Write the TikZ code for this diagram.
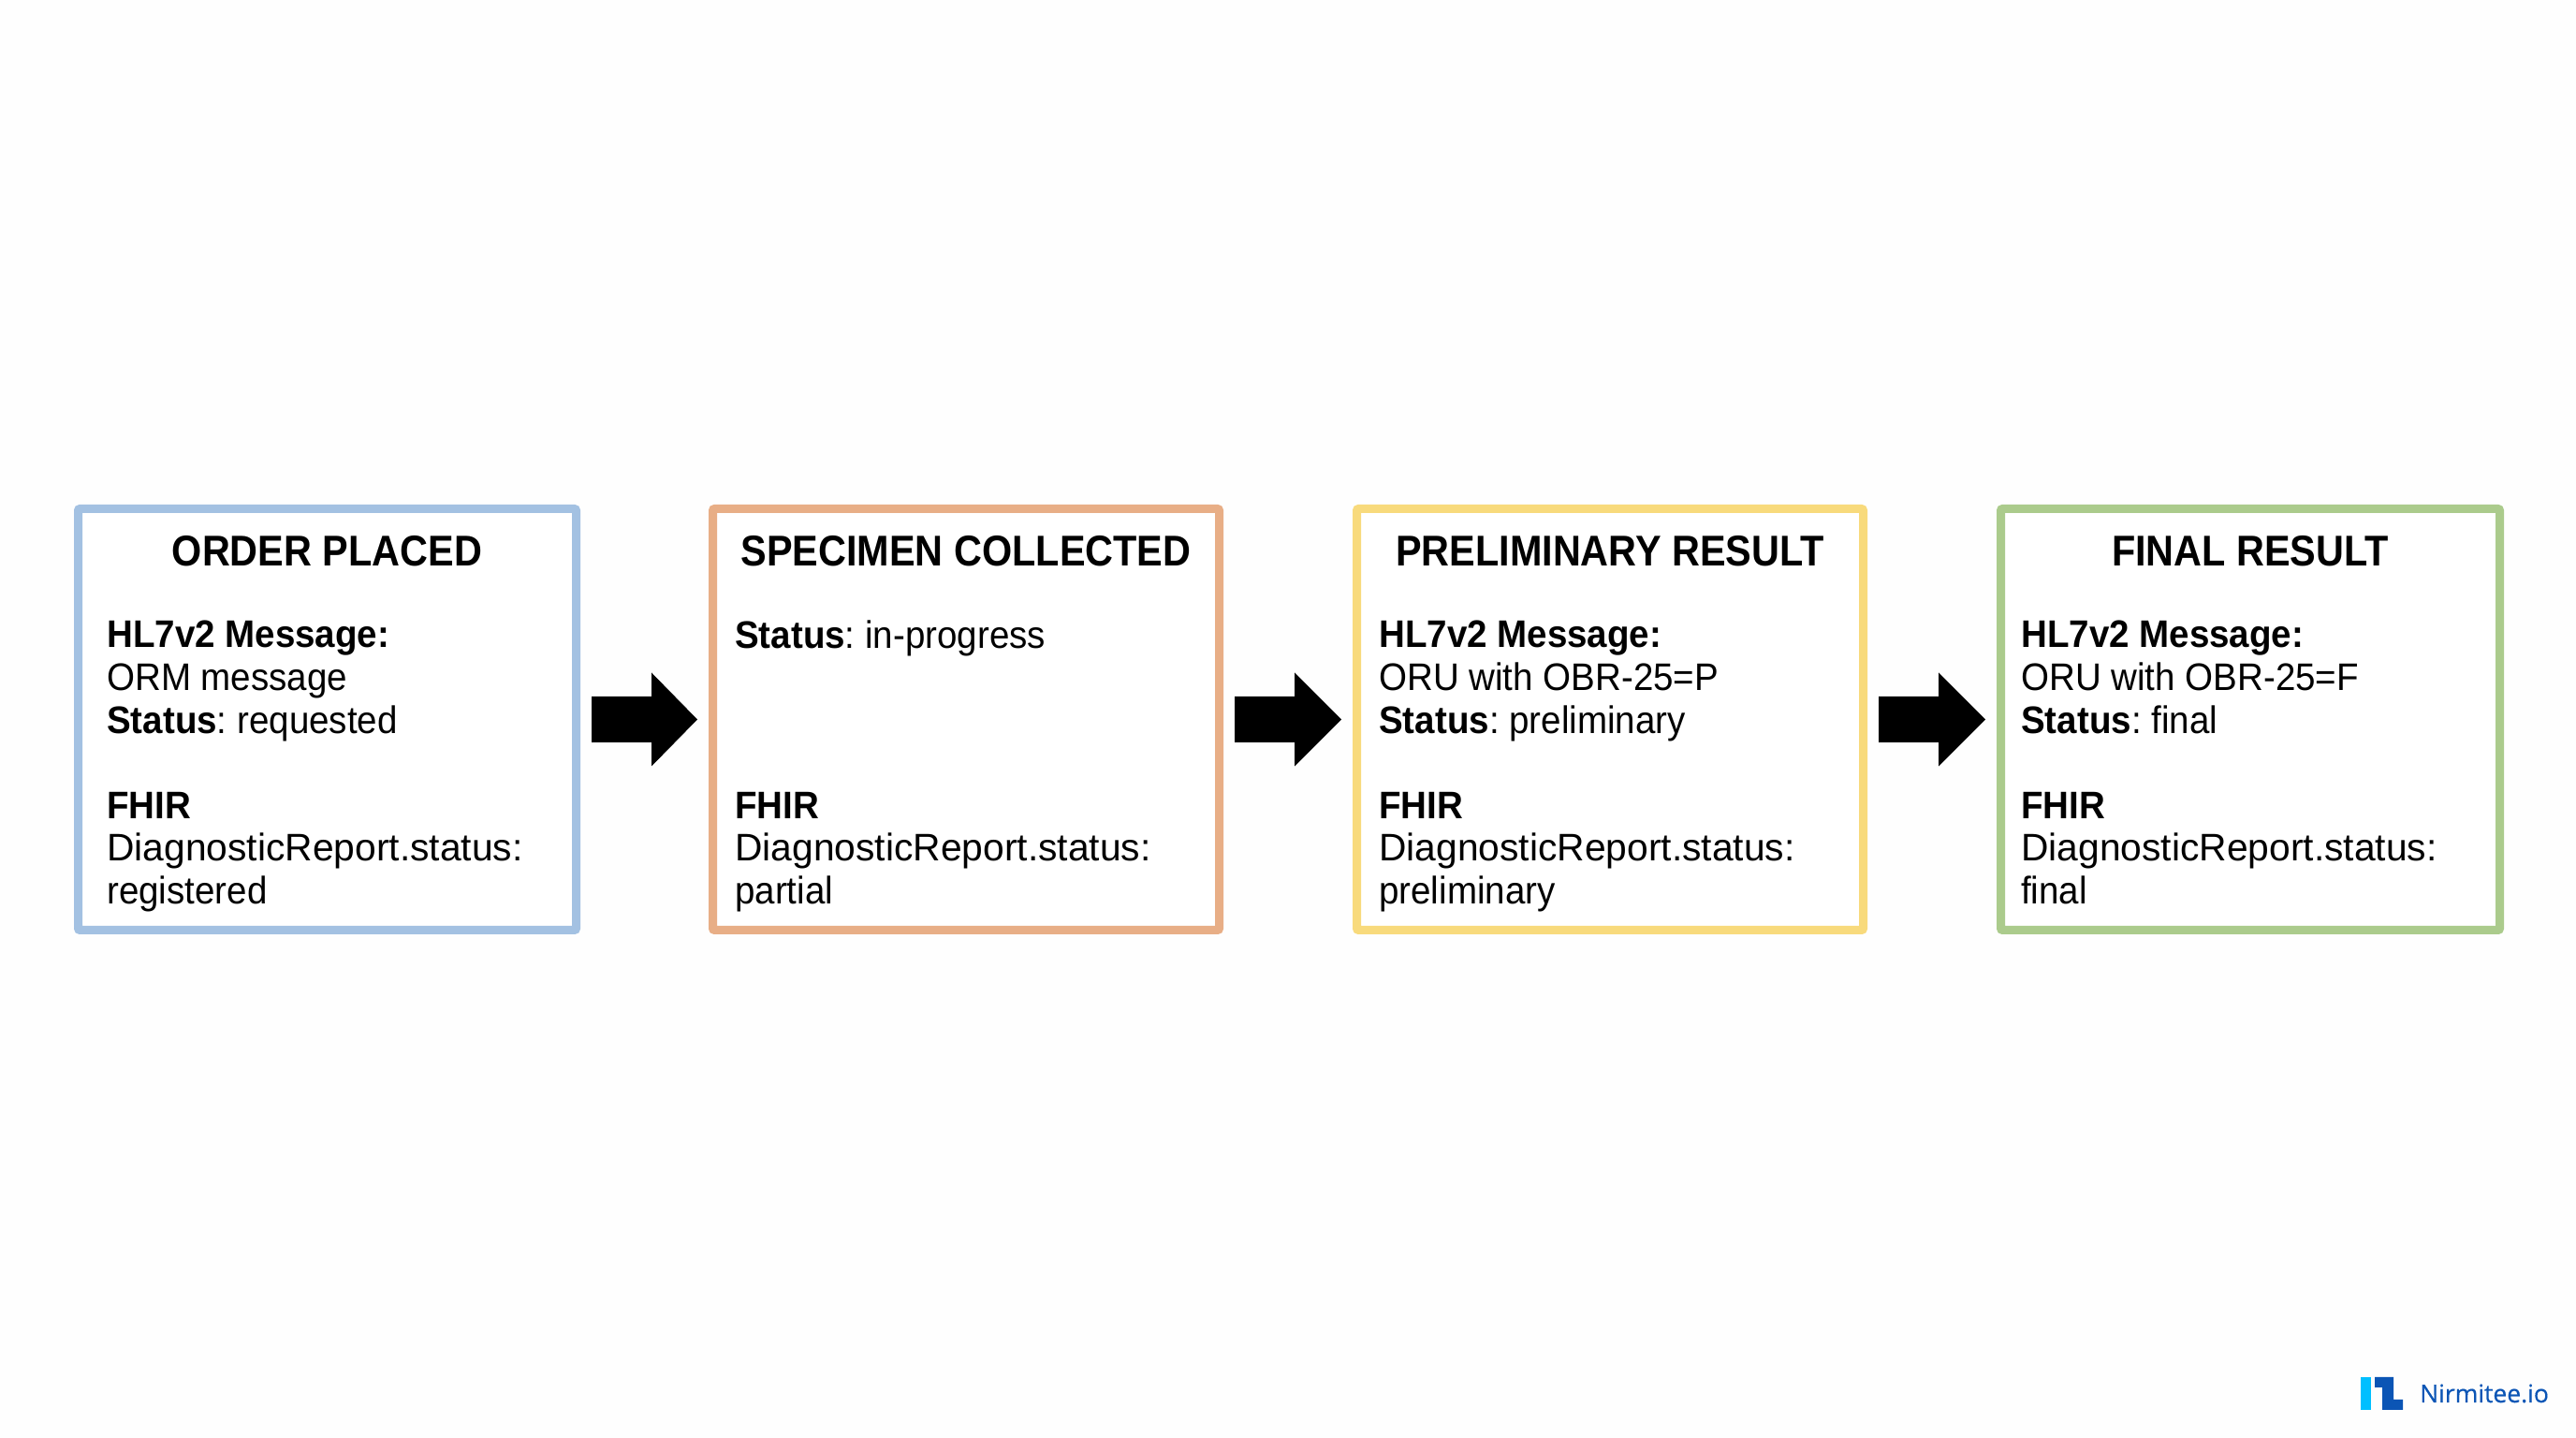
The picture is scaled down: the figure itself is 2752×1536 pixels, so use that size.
\documentclass[tikz,border=0pt]{standalone}
\usepackage{fontspec}
\usetikzlibrary{calc}
\setmainfont[FakeStretch=0.94]{Liberation Sans}
\newfontfamily\titlefont[FakeStretch=0.90]{Liberation Sans}
\newfontfamily\widefont[FakeStretch=0.995]{Liberation Sans}
\newfontfamily\logofont[FakeBold=0.4]{Open Sans}
\definecolor{bgc}{HTML}{FEFEFE}
\definecolor{cblue}{HTML}{A3C1E2}
\definecolor{corange}{HTML}{E8AE86}
\definecolor{cyellow}{HTML}{F8DA7C}
\definecolor{cgreen}{HTML}{ABCB8C}
\definecolor{logolight}{HTML}{00BFFF}
\definecolor{logodark}{HTML}{0B55B5}
\tikzset{
  x=1pt,y=1pt,
  stagebox/.style={draw=#1,line width=9pt,fill=white,rounded corners=2pt,outer sep=0pt,inner sep=0pt,minimum height=450pt},
  stagetitle/.style={anchor=base,inner sep=0pt,text=black,font=\titlefont\fontsize{46}{46}\selectfont\bfseries},
  stagebody/.style={anchor=north west,inner sep=0pt,align=left,text=black,font=\fontsize{41}{45.6}\selectfont\frenchspacing},
  blockarrow/.style={fill=black,draw=none},
}
\newcommand{\flowarrow}[2]{%
  \fill[blockarrow] ($(#1.east)+(16.5,24.5)$) -- ($(#1.east)+(80.5,24.5)$) -- ($(#1.east)+(80.5,50)$)
    -- ($(#2.west)+(-16.5,0)$) -- ($(#1.east)+(80.5,-50)$) -- ($(#1.east)+(80.5,-24.5)$)
    -- ($(#1.east)+(16.5,-24.5)$) -- cycle;}
\newcommand{\drline}{{\widefont DiagnosticReport.status:}}
\begin{document}
\begin{tikzpicture}
\path[use as bounding box,fill=bgc] (0,0) rectangle (2752,1536);
\node[stagebox=cblue,minimum width=532pt] (b1) at (349.5,767.5) {};
\node[stagebox=corange,minimum width=541pt] (b2) at (1032,767.5) {};
\node[stagebox=cyellow,minimum width=541pt] (b3) at (1720,767.5) {};
\node[stagebox=cgreen,minimum width=533pt] (b4) at (2404,767.5) {};
\node[stagetitle] (t1) at ($(b1.north)+(0,-61)$) {ORDER PLACED};
\node[stagetitle] (t2) at ($(b2.north)+(0,-61)$) {SPECIMEN COLLECTED};
\node[stagetitle] (t3) at ($(b3.north)+(0,-61)$) {PRELIMINARY RESULT};
\node[stagetitle] (t4) at ($(b4.north)+(0,-61)$) {FINAL RESULT};
\node[stagebody] (s1) at (114,873) {\textbf{HL7v2 Message:}\\ORM message\\\textbf{Status}: requested};
\node[stagebody] (f1) at (114,690) {\textbf{FHIR}\\\drline\\registered};
\node[stagebody] (s2) at (785,873) {\textbf{Status}: in-progress};
\node[stagebody] (f2) at (785,690) {\textbf{FHIR}\\\drline\\partial};
\node[stagebody] (s3) at (1473,873) {\textbf{HL7v2 Message:}\\ORU with OBR-25=P\\\textbf{Status}: preliminary};
\node[stagebody] (f3) at (1473,690) {\textbf{FHIR}\\\drline\\preliminary};
\node[stagebody] (s4) at (2159,873) {\textbf{HL7v2 Message:}\\ORU with OBR-25=F\\\textbf{Status}: final};
\node[stagebody] (f4) at (2159,690) {\textbf{FHIR}\\\drline\\final};
\flowarrow{b1}{b2}
\flowarrow{b2}{b3}
\flowarrow{b3}{b4}
\fill[logolight] (2522,65) rectangle (2533,30);
\fill[logodark] (2537,65) -- (2557,65) -- (2557,41) -- (2567,41) -- (2567,30) -- (2545,30) -- (2545,54) -- (2537,54) -- cycle;
\node[anchor=base west,inner sep=0pt,text=logodark,font=\logofont\fontsize{26.5}{27}\selectfont] (logo) at (2585,38) {Nirmitee.io};
\end{tikzpicture}
\end{document}
